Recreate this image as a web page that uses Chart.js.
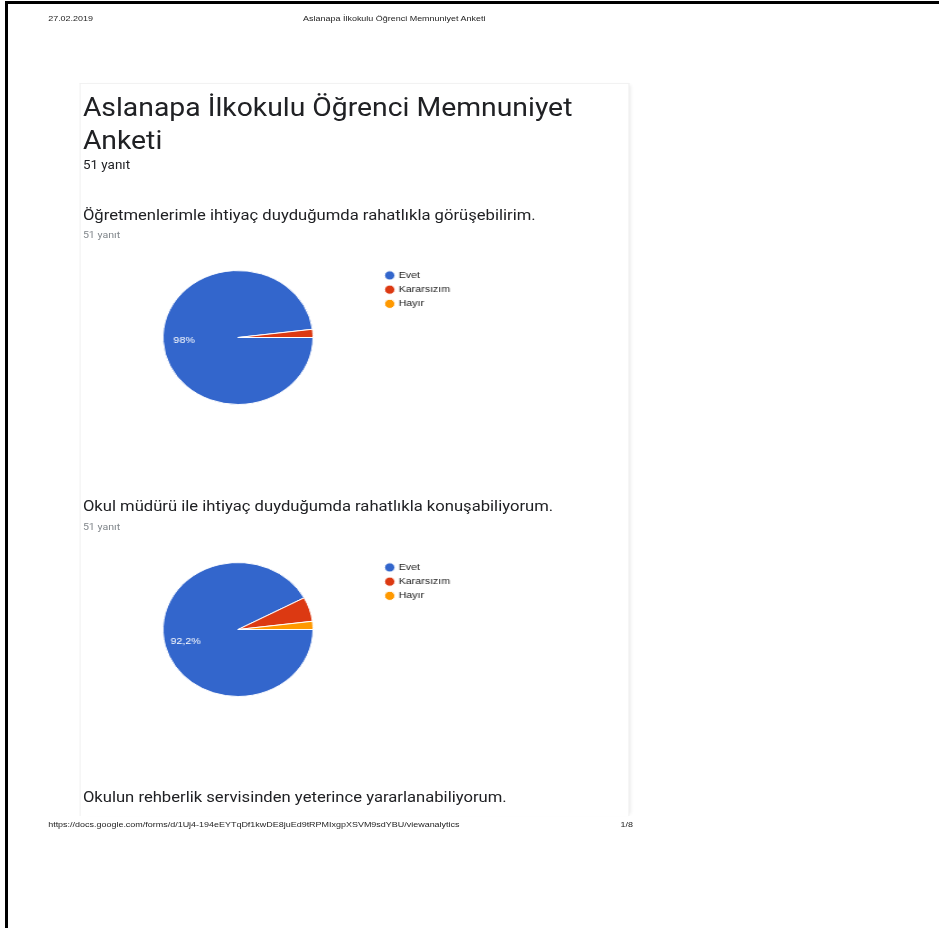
<!DOCTYPE html>
<html>
<head>
<meta charset="utf-8">
<script src="https://cdn.jsdelivr.net/npm/chart.js@4.4.0/dist/chart.umd.min.js"></script>
<style>
html, body { margin:0; padding:0; background:#fff; }
body { width:939px; height:928px; position:relative; overflow:hidden; }
#frameLeft { position:absolute; left:5px; top:1px; width:3px; height:927px; background:#000; }
#frameTop { position:absolute; left:5px; top:1px; width:934px; height:3px; background:#000; }
/* the printed page is stretched sideways, so everything is laid out narrow and scaled */
#page { position:absolute; left:0; top:0; width:839px; height:928px; transform:scaleX(1.12); transform-origin:0 0; }
.abs { position:absolute; white-space:nowrap; }
.print { font-family:"Liberation Sans", Arial, sans-serif; font-size:8px; line-height:8px; color:#222; }
.card { position:absolute; left:71px; top:83px; width:489px; height:732px; border:1px solid #f2f2f2; border-bottom:none; box-shadow:3px 0 3px -2px #eee; }
.title { font-family:Roboto, sans-serif; font-size:25.3px; line-height:32.5px; color:#202124; }
.count { font-family:Roboto, sans-serif; font-size:12px; line-height:12px; color:#202124; }
.question { font-family:Roboto, sans-serif; font-size:14.85px; line-height:15px; color:#202124; }
.small { font-family:Roboto, sans-serif; font-size:9.5px; line-height:9.5px; color:#80868b; }
.pie { position:absolute; left:85px; width:335px; height:143px; }
</style>
</head>
<body>
<div id="frameLeft"></div>
<div id="frameTop"></div>

<div id="page">
  <div class="abs print" style="left:43px; top:15px;">27.02.2019</div>
  <div class="abs print" style="left:352px; top:15px; transform:translateX(-50%);" id="printTitle"></div>

  <div class="card"></div>
  <div class="abs title" style="left:74px; top:92.2px;" id="formTitle"></div>
  <div class="abs count" style="left:74px; top:159px;" id="formCount"></div>

  <div class="abs question" style="left:74px; top:208px;" id="q1"></div>
  <div class="abs small" style="left:74px; top:230px;" id="q1n"></div>
  <div class="pie" style="top:265.5px;"><canvas id="pie1"></canvas></div>

  <div class="abs question" style="left:74px; top:499px;" id="q2"></div>
  <div class="abs small" style="left:74px; top:522px;" id="q2n"></div>
  <div class="pie" style="top:558px;"><canvas id="pie2"></canvas></div>

  <div class="abs question" style="left:74px; top:790px;" id="q3"></div>

  <div class="abs print" style="left:43px; top:821px;">https://docs.google.com/forms/d/1Uj4-194eEYTqDf1kwDE8juEd9tRPMIxgpXSVM9sdYBU/viewanalytics</div>
  <div class="abs print" style="left:554px; top:821px;">1/8</div>
</div>

<script>
// answers and counts
const formTitle = "Aslanapa İlkokulu Öğrenci Memnuniyet Anketi";
const responseCount = 51;
const questions = [
  "Öğretmenlerimle ihtiyaç duyduğumda rahatlıkla görüşebilirim.",
  "Okul müdürü ile ihtiyaç duyduğumda rahatlıkla konuşabiliyorum.",
  "Okulun rehberlik servisinden yeterince yararlanabiliyorum."
];
const optionLabels = ["Evet", "Kararsızım", "Hayır"];
const q1Counts = [50, 1, 0];
const q2Counts = [47, 3, 1];
const sliceColors = ["#3366cc", "#dc3912", "#ff9900"];

// === TEXT ===
document.getElementById("printTitle").textContent = formTitle;
document.getElementById("formTitle").innerHTML = "Aslanapa İlkokulu Öğrenci Memnuniyet<br>Anketi";
document.getElementById("formCount").textContent = responseCount + " yanıt";
document.getElementById("q1").textContent = questions[0];
document.getElementById("q2").textContent = questions[1];
document.getElementById("q3").textContent = questions[2];
document.getElementById("q1n").textContent = responseCount + " yanıt";
document.getElementById("q2n").textContent = responseCount + " yanıt";

function formatPct(p) {
  return String(Number(p.toFixed(1))).replace(".", ",") + "%";
}

// keep the legend box a fixed width so the pie sits where it should
const fixedLegendWidth = {
  id: "fixedLegendWidth",
  beforeInit(chart) {
    const fit = chart.legend.fit;
    chart.legend.fit = function() {
      fit.call(this);
      this.width = 80;
    };
  }
};

// white percentage text inside the big slices
const sliceLabels = {
  id: "sliceLabels",
  afterDatasetsDraw(chart) {
    const ctx = chart.ctx;
    const values = chart.data.datasets[0].data;
    const total = values.reduce((a, b) => a + b, 0);
    chart.getDatasetMeta(0).data.forEach((arc, i) => {
      const pct = values[i] / total * 100;
      if (pct < 10) return;
      const p = arc.getProps(["x", "y", "startAngle", "endAngle", "outerRadius"], true);
      const mid = (p.startAngle + p.endAngle) / 2;
      const r = p.outerRadius * 0.72;
      ctx.save();
      ctx.fillStyle = "#fff";
      ctx.font = "9.5px 'Liberation Sans', Arial, sans-serif";
      ctx.textAlign = "center";
      ctx.textBaseline = "middle";
      ctx.fillText(formatPct(pct), p.x + Math.cos(mid) * r, p.y + Math.sin(mid) * r);
      ctx.restore();
    });
  }
};

function makePie(id, counts) {
  return new Chart(document.getElementById(id).getContext("2d"), {
    type: "pie",
    data: {
      labels: optionLabels,
      datasets: [{ data: counts, backgroundColor: sliceColors, borderColor: "#fff", borderWidth: 1 }]
    },
    options: {
      responsive: true,
      maintainAspectRatio: false,
      animation: false,
      rotation: 90,
      radius: 67,
      layout: { padding: 0 },
      plugins: {
        legend: {
          position: "right",
          align: "start",
          labels: {
            usePointStyle: true,
            pointStyle: "circle",
            boxWidth: 6.5,
            boxHeight: 6.5,
            padding: 4.7,
            color: "#222",
            font: { family: "'Liberation Sans', Arial, sans-serif", size: 9.5 }
          }
        },
        tooltip: { enabled: false }
      }
    },
    plugins: [fixedLegendWidth, sliceLabels]
  });
}

makePie("pie1", q1Counts);
makePie("pie2", q2Counts);
</script>
</body>
</html>
